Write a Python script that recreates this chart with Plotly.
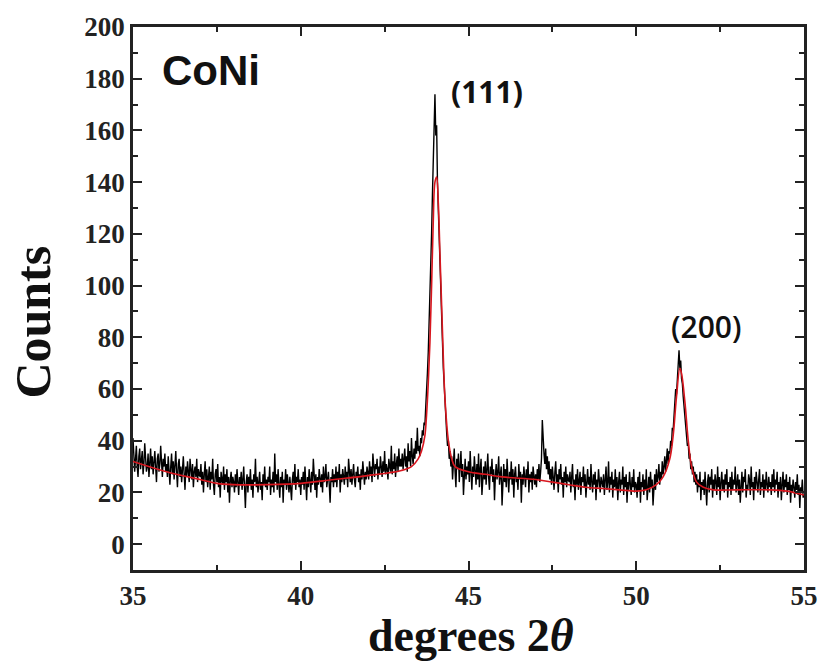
import plotly.graph_objects as go

# ---- data ----
# observed counts; each list = one degree of 2theta, sampled every 0.025 deg
obs_35 = [41, 35, 28, 33, 38, 30, 26, 34, 37, 29, 32, 36, 27, 31, 39, 33, 28, 30, 35, 26,
          32, 37, 29, 34, 27, 31, 36, 30, 24, 33, 35, 28, 31, 38, 29, 26, 33, 30, 35, 28]
obs_36 = [31, 26, 34, 29, 23, 30, 35, 27, 32, 25, 29, 36, 28, 22, 31, 33, 26, 30, 24, 28,
          34, 27, 21, 30, 26, 32, 29, 24, 33, 27, 25, 31, 22, 28, 30, 26, 33, 24, 29, 27]
obs_37 = [26, 31, 23, 28, 20, 27, 32, 24, 29, 22, 26, 30, 21, 28, 25, 33, 23, 19, 27, 29,
          24, 31, 22, 26, 18, 28, 25, 23, 30, 21, 27, 24, 29, 20, 26, 16, 25, 28, 22, 26]
obs_38 = [24, 20, 27, 22, 29, 25, 19, 26, 23, 28, 21, 25, 30, 22, 14, 24, 27, 20, 26, 23,
          29, 21, 25, 18, 27, 24, 33, 22, 26, 20, 25, 28, 21, 24, 17, 27, 23, 30, 22, 25]
obs_39 = [21, 26, 24, 30, 19, 25, 22, 28, 20, 35, 24, 27, 21, 29, 23, 18, 26, 22, 28, 16,
          25, 23, 29, 21, 27, 24, 20, 26, 22, 17, 25, 28, 23, 31, 21, 26, 24, 29, 22, 25]
obs_40 = [19, 26, 23, 28, 21, 30, 24, 17, 26, 22, 29, 25, 20, 28, 23, 33, 24, 21, 27, 18,
          26, 23, 29, 25, 22, 27, 20, 30, 24, 26, 31, 22, 25, 28, 23, 16, 26, 24, 29, 22]
obs_41 = [27, 24, 30, 22, 28, 25, 31, 20, 27, 24, 29, 26, 23, 30, 25, 28, 22, 33, 26, 24,
          29, 23, 27, 31, 25, 22, 28, 26, 30, 24, 27, 21, 29, 25, 32, 26, 23, 28, 25, 30]
obs_42 = [28, 25, 32, 27, 30, 24, 35, 28, 26, 31, 29, 33, 25, 30, 27, 34, 29, 26, 32, 28,
          36, 27, 31, 29, 25, 33, 30, 28, 38, 27, 32, 29, 35, 26, 31, 34, 28, 37, 30, 33]
obs_43 = [30, 35, 29, 33, 37, 30, 34, 28, 39, 32, 36, 30, 41, 34, 31, 37, 33, 40, 35, 45,
          36, 38, 34, 41, 39, 44, 42, 47, 46, 53, 58, 66, 74, 84, 95, 108, 120, 135, 150, 160]
obs_44 = [174, 158, 162, 140, 131, 118, 108, 96, 90, 78, 68, 60, 54, 47, 43, 38, 40, 33, 36, 30,
          34, 25, 31, 37, 28, 22, 33, 29, 35, 24, 30, 36, 26, 31, 19, 28, 33, 25, 30, 27]
obs_45 = [32, 24, 36, 28, 21, 30, 26, 34, 27, 23, 31, 25, 35, 22, 29, 33, 19, 27, 30, 25,
          32, 23, 28, 35, 26, 21, 30, 27, 33, 24, 29, 17, 26, 31, 25, 28, 34, 23, 27, 30]
obs_46 = [15, 27, 31, 24, 29, 22, 33, 26, 20, 28, 25, 32, 23, 29, 18, 27, 30, 24, 26, 21,
          31, 25, 28, 16, 27, 23, 30, 26, 22, 29, 25, 32, 20, 27, 24, 28, 21, 30, 25, 23]
obs_47 = [27, 22, 29, 25, 31, 24, 28, 33, 48, 38, 35, 31, 37, 29, 34, 27, 32, 25, 29, 23,
          30, 26, 21, 28, 32, 24, 27, 20, 29, 25, 31, 23, 26, 18, 28, 24, 30, 22, 27, 25]
obs_48 = [24, 28, 20, 26, 31, 22, 25, 17, 27, 23, 29, 21, 25, 28, 19, 26, 24, 30, 22, 27,
          18, 25, 29, 23, 26, 21, 31, 24, 20, 27, 23, 28, 17, 25, 22, 29, 24, 20, 26, 23]
obs_49 = [22, 27, 19, 25, 30, 21, 24, 32, 20, 26, 23, 28, 18, 25, 22, 29, 21, 26, 17, 24,
          28, 20, 25, 23, 30, 19, 26, 22, 27, 16, 24, 21, 28, 23, 19, 26, 22, 29, 20, 24]
obs_50 = [23, 18, 26, 21, 28, 16, 24, 22, 27, 19, 25, 21, 29, 17, 23, 26, 20, 28, 22, 25,
          15, 24, 27, 21, 29, 24, 26, 31, 23, 28, 25, 32, 27, 30, 34, 28, 33, 37, 31, 36]
obs_51 = [35, 40, 38, 45, 44, 50, 54, 60, 58, 66, 70, 75, 68, 71, 64, 62, 57, 53, 50, 45,
          42, 38, 39, 33, 35, 29, 32, 27, 30, 24, 28, 23, 27, 20, 25, 22, 28, 17, 24, 21]
obs_52 = [25, 19, 28, 22, 15, 24, 27, 20, 26, 23, 29, 18, 25, 21, 27, 24, 19, 30, 22, 26,
          17, 24, 28, 21, 25, 20, 27, 23, 29, 18, 24, 22, 26, 19, 28, 21, 25, 23, 30, 20]
obs_53 = [23, 27, 19, 25, 16, 22, 28, 20, 26, 24, 29, 18, 23, 21, 27, 25, 19, 30, 22, 24,
          17, 26, 21, 28, 23, 20, 25, 29, 19, 24, 22, 27, 18, 25, 21, 28, 23, 20, 26, 22]
obs_54 = [24, 19, 27, 22, 29, 20, 25, 23, 28, 18, 24, 21, 26, 17, 23, 28, 20, 25, 22, 27,
          19, 24, 21, 26, 16, 23, 20, 25, 22, 18, 24, 21, 27, 19, 23, 14, 22, 20, 25, 18]
obs_55 = [19]

# fitted profile (red)
fit_x = [35, 36, 37, 37.5, 38, 39, 40, 41, 42, 43, 43.3, 43.5, 43.6, 43.7, 43.75, 43.8,
         43.85, 43.9, 43.95, 44.0, 44.05, 44.1, 44.15, 44.2, 44.25, 44.3, 44.4, 44.5,
         44.6, 45, 45.5, 46, 47, 47.5, 48, 48.5, 49, 49.5, 50, 50.3, 50.6, 50.8, 51.0,
         51.1, 51.2, 51.3, 51.35, 51.45, 51.55, 51.65, 51.8, 52, 52.3, 53, 54, 54.5, 55]
fit_y = [32, 28, 25, 23.5, 23, 23, 23.5, 25, 26.5, 28.5, 30, 33, 36, 42, 50, 62,
         78, 100, 125, 140, 142, 132, 112, 92, 72, 56, 40, 33,
         30, 28, 27, 26, 25, 24, 23, 22, 21.5, 21, 20.5, 21, 23, 26, 33,
         42, 57, 68, 66, 55, 40, 30, 24, 22, 21, 21, 21, 20.5, 19]

obs_rows = {35: obs_35, 36: obs_36, 37: obs_37, 38: obs_38, 39: obs_39, 40: obs_40,
            41: obs_41, 42: obs_42, 43: obs_43, 44: obs_44, 45: obs_45, 46: obs_46,
            47: obs_47, 48: obs_48, 49: obs_49, 50: obs_50, 51: obs_51, 52: obs_52,
            53: obs_53, 54: obs_54, 55: obs_55}
step = 0.025
obs_x, obs_y = [], []
for start, row in obs_rows.items():
    for i, v in enumerate(row):
        obs_x.append(round(start + i * step, 4))
        obs_y.append(v)

x_ticks = [35, 40, 45, 50, 55]
y_ticks = [0, 20, 40, 60, 80, 100, 120, 140, 160, 180, 200]

fig = go.Figure()
fig.add_trace(go.Scatter(x=obs_x, y=obs_y, mode="lines",
                         line=dict(color="black", width=1.4), showlegend=False))
fig.add_trace(go.Scatter(x=fit_x, y=fit_y, mode="lines", line_shape="spline",
                         line=dict(color="#d8161e", width=1.6), showlegend=False))

tickfont = dict(family="Liberation Serif", size=27, color="#222", weight="bold")
axis_common = dict(showline=True, linecolor="#222", linewidth=2.5, mirror="ticks",
                   ticks="inside", ticklen=9, tickwidth=2, tickcolor="#222",
                   showgrid=False, zeroline=False, tickfont=tickfont)

fig.update_xaxes(range=[35, 55], tickvals=x_ticks,
                 minor=dict(dtick=2.5, tick0=35, ticks="inside", ticklen=5,
                            tickwidth=2, tickcolor="#222"),
                 **axis_common)
fig.update_yaxes(range=[-10, 200], tickvals=y_ticks,
                 minor=dict(dtick=10, tick0=0, ticks="inside", ticklen=5,
                            tickwidth=2, tickcolor="#222"),
                 **axis_common)

fig.add_annotation(text="Counts", xref="paper", yref="paper", x=-0.1487, y=0.456,
                   textangle=-90, showarrow=False, xanchor="center", yanchor="middle",
                   font=dict(family="Liberation Serif", size=50, color="#111", weight="bold"))
fig.add_annotation(text="degrees 2<i>θ</i>", xref="paper", yref="paper", x=0.5037, y=-0.12,
                   showarrow=False, xanchor="center", yanchor="middle",
                   font=dict(family="Liberation Serif", size=46, color="#111", weight="bold"))
fig.add_annotation(text="CoNi", x=37.33, y=183, showarrow=False,
                   xanchor="center", yanchor="middle",
                   font=dict(family="Liberation Sans", size=42, color="#111", weight="bold"))
fig.add_annotation(text="(111)", x=45.55, y=175, showarrow=False,
                   xanchor="center", yanchor="middle",
                   font=dict(family="Open Sans", size=30, color="#111", weight="bold"))
fig.add_annotation(text="(200)", x=52.07, y=84, showarrow=False,
                   xanchor="center", yanchor="middle",
                   font=dict(family="Open Sans", size=30, color="#111", weight=600))

fig.update_layout(width=830, height=670, margin=dict(l=133, r=18, t=22, b=100),
                  plot_bgcolor="white", paper_bgcolor="white")

fig.write_html("out.html")
